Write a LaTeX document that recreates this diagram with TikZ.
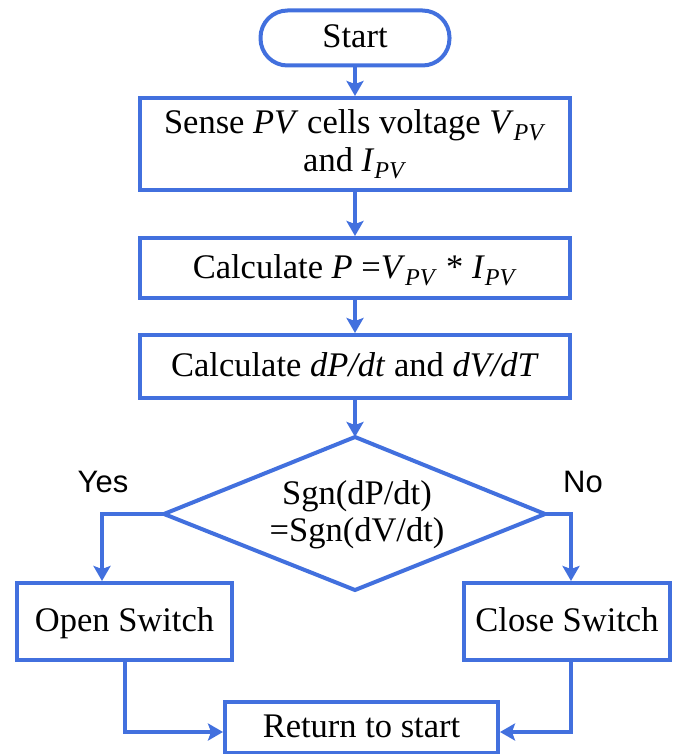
\documentclass[tikz,border=0pt]{standalone}
\usepackage{fontspec}
\setmainfont{Liberation Serif}
\newfontfamily\arialf{Liberation Sans}
\usetikzlibrary{arrows.meta,shapes.geometric}
\definecolor{flowblue}{RGB}{66,112,222}
\tikzset{
  box/.style={draw=flowblue, line width=4pt, rectangle, inner sep=0pt, align=center,
     font=\fontsize{34.5}{36}\selectfont, text=black},
  oneline/.style={text height=24pt, text depth=4pt},
  flow/.style={draw=flowblue, line width=4pt, -{Stealth[length=15pt,width=17pt,inset=3pt]}},
  lbl/.style={font=\arialf\fontsize{31}{34}\selectfont, text=black}
}
\newcommand{\pvsub}{\textsubscript{\textit{PV}}}
\begin{document}
\begin{tikzpicture}[x=1pt,y=-1pt]
\useasboundingbox (0,0) rectangle (688,754);
\node[box, oneline, rounded corners=27pt, minimum width=189pt, minimum height=55pt] (start) at (355,38) {Start};
\node[box, minimum width=430pt, minimum height=92pt] (sense) at (355,144)
  {Sense \textit{PV} cells voltage \textit{V}\pvsub\\[2pt] and \textit{I}\pvsub};
\node[box, oneline, minimum width=430pt, minimum height=60pt] (calcp) at (355,268)
  {Calculate \textit{P} =\textit{V}\pvsub\ * \textit{I}\pvsub};
\node[box, oneline, minimum width=430pt, minimum height=63pt] (calcd) at (355,366.5)
  {Calculate \textit{dP/dt} and \textit{dV/dT}};
\draw[draw=flowblue, line width=4pt, line join=miter]
  (355,437) coordinate (dtop) -- (545,514) coordinate (dright) -- (355,590) coordinate (dbot) -- (164,514) coordinate (dleft) -- cycle;
\node[align=center, font=\fontsize{34.5}{37}\selectfont, inner sep=0pt] (cond) at (357,515) {Sgn(dP/dt)\\=Sgn(dV/dt)};
\node[box, oneline, minimum width=215pt, minimum height=77pt] (open) at (124.5,621.5) {Open Switch};
\node[box, oneline, minimum width=206pt, minimum height=77pt] (close) at (567,621.5) {Close Switch};
\node[box, oneline, minimum width=273pt, minimum height=51pt] (ret) at (361.5,727.5) {Return to start};
\node[lbl] (yes) at (103,482) {Yes};
\node[lbl] (no) at (583,482) {No};
\draw[flow] (start) -- (sense);
\draw[flow] (sense) -- (calcp);
\draw[flow] (calcp) -- (calcd);
\draw[flow] (calcd) -- (dtop);
\coordinate (lc) at (102,514);
\coordinate (rc) at (571,514);
\draw[flow] (dleft) -- (lc) -- (lc |- open.north);
\draw[flow] (dright) -- (rc) -- (rc |- close.north);
\coordinate (ob) at (125,732);
\coordinate (cb) at (571,732);
\draw[flow] (open.south -| ob) -- (ob) -- (ob -| ret.west);
\draw[flow] (close.south -| cb) -- (cb) -- (cb -| ret.east);
\end{tikzpicture}
\end{document}
